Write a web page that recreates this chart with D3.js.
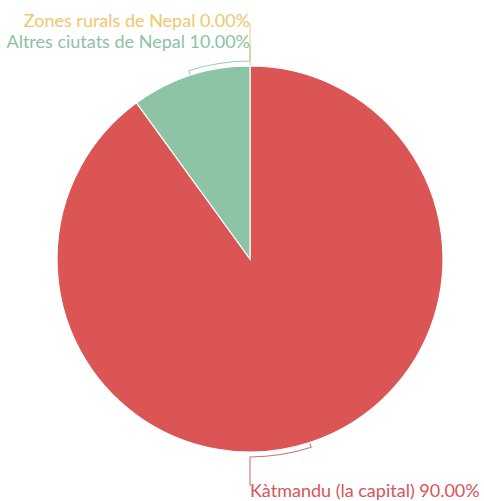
<!DOCTYPE html>
<html>
<head>
<meta charset="utf-8">
<script src="https://cdn.jsdelivr.net/npm/d3@7"></script>
<style>
  html, body { margin: 0; padding: 0; background: #fff; }
  svg { display: block; font-family: 'Lato', 'Open Sans', sans-serif; }
</style>
</head>
<body>
<div id="chart"></div>
<script>
const labels = ['Kàtmandu (la capital)', 'Altres ciutats de Nepal', 'Zones rurals de Nepal'];
const values = [90, 10, 0];
const colors = ['#db5555', '#8cc4a5', '#f6c86c'];
const textColors = ['#d8555a', '#8cc2a3', '#f2c66c'];

const width = 484, height = 501;
const cx = 250, cy = 259, radius = 193;

const svg = d3.select('#chart').append('svg')
  .attr('width', width)
  .attr('height', height);

const g = svg.append('g').attr('transform', `translate(${cx},${cy})`);

const data = labels.map((label, i) => ({ label, value: values[i], color: colors[i], text: textColors[i] }));

const pie = d3.pie().sort(null).value(d => d.value);
const arcs = pie(data);

const arc = d3.arc().innerRadius(0).outerRadius(radius);

g.selectAll('path.slice')
  .data(arcs)
  .join('path')
  .attr('class', 'slice')
  .attr('d', arc)
  .attr('fill', d => d.data.color)
  .attr('stroke', '#fff')
  .attr('stroke-width', d => d.value > 0 ? 1.2 : 0);

// leader lines: radial tick at mid-angle, arc around outside to the top/bottom, then vertical to the label
const leaderR = 198;
const pt = (a, r) => [Math.sin(a) * r, -Math.cos(a) * r];

const labelSpecs = [
  { idx: 0, target: Math.PI, endY: 227, textY: 238, anchor: 'start' },
  { idx: 1, target: 2 * Math.PI, endY: -214, textY: -211, anchor: 'end' },
  { idx: 2, target: 2 * Math.PI, endY: -236, textY: -232, anchor: 'end' }
];

labelSpecs.forEach(s => {
  const a = arcs[s.idx];
  const mid = (a.startAngle + a.endAngle) / 2;
  const p0 = pt(mid, radius + 1);
  const p1 = pt(mid, leaderR);
  const path = d3.path();
  path.moveTo(p0[0], p0[1]);
  path.lineTo(p1[0], p1[1]);
  if (mid !== s.target) {
    const sa = mid - Math.PI / 2, ea = s.target - Math.PI / 2;
    path.arc(0, 0, leaderR, sa, ea, ea < sa);
  }
  const p2 = pt(s.target, leaderR);
  path.lineTo(p2[0], s.endY);
  g.append('path')
    .attr('d', path.toString())
    .attr('fill', 'none')
    .attr('stroke', a.data.text)
    .attr('stroke-width', 1.1)
    .attr('opacity', 0.85);

  g.append('text')
    .attr('x', p2[0])
    .attr('y', s.textY)
    .attr('text-anchor', s.anchor)
    .attr('font-size', 18)
    .attr('fill', a.data.text)
    .text(`${a.data.label} ${a.data.value.toFixed(2)}%`);
});
</script>
</body>
</html>
